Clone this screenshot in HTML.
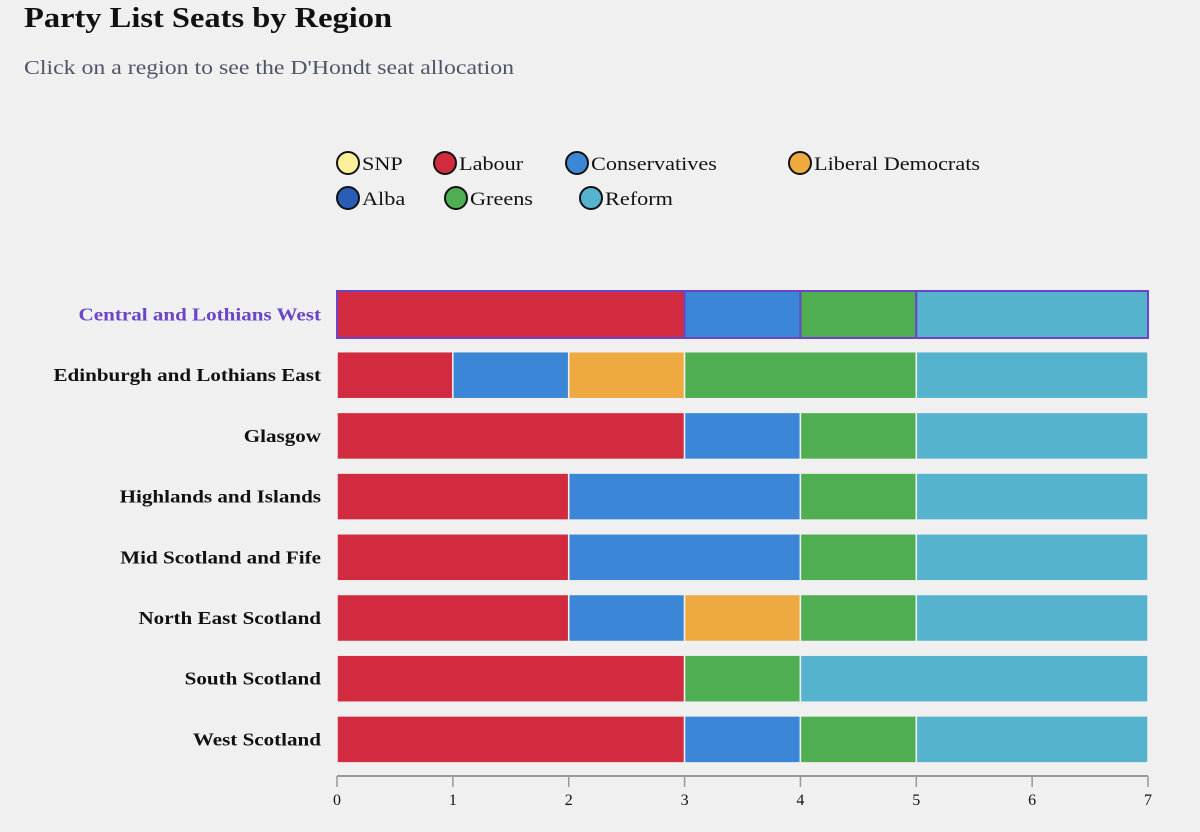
<!DOCTYPE html>
<html><head><meta charset="utf-8"><style>
body{margin:0;background:#f0f0f0;font-family:"Liberation Serif",serif;}
svg{display:block}
</style></head><body>
<svg id="c" width="1200" height="832">
<text class="st" x="24" y="27" font-size="29" font-weight="bold" fill="#111">Party List Seats by Region</text>
<text class="st" x="24" y="74" font-size="20" fill="#4e5566">Click on a region to see the D'Hondt seat allocation</text>
<g id="legend"></g><g id="bars"></g><g id="axis"></g>
</svg>
<script>
const regions=["Central and Lothians West","Edinburgh and Lothians East","Glasgow","Highlands and Islands","Mid Scotland and Fife","North East Scotland","South Scotland","West Scotland"];
const parties=["SNP","Labour","Conservatives","Liberal Democrats","Alba","Greens","Reform"];
const colors=["#fdf09a","#d22b3f","#3b86d6","#eea940","#2a5db8","#4fae52","#55b3ce"];
const snp=[0,0,0,0,0,0,0,0];
const labour=[3,1,3,2,2,2,3,3];
const con=[1,1,1,2,2,1,0,1];
const libdem=[0,1,0,0,0,1,0,0];
const alba=[0,0,0,0,0,0,0,0];
const greens=[1,2,1,1,1,1,1,1];
const reform=[2,2,2,2,2,2,3,2];
const ticks=[0,1,2,3,4,5,6,7];
const series=[snp,labour,con,libdem,alba,greens,reform];
const NS="http://www.w3.org/2000/svg";
const x0=337,x1=1148,xmax=7;
const xs=v=>x0+(x1-x0)*v/xmax;
const ys=i=>291+i*60.7;
const bh=47;
function mk(t,a,p){const e=document.createElementNS(NS,t);for(const k in a)e.setAttribute(k,a[k]);p.appendChild(e);return e;}
function stretch(t,f){const l=t.getComputedTextLength();t.setAttribute('textLength',l*f);t.setAttribute('lengthAdjust','spacingAndGlyphs');}
const lg=document.getElementById('legend');
const lpos=[[348,163],[445,163],[577,163],[800,163],[348,198],[456,198],[591,198]];
parties.forEach((p,i)=>{
 const g=mk('g',{},lg);
 
 
 mk('circle',{cx:lpos[i][0],cy:lpos[i][1],r:11,fill:colors[i],stroke:'#111','stroke-width':2},g);
 const t=mk('text',{x:lpos[i][0]+14,y:lpos[i][1]+7,'font-size':19,fill:'#111'},g);t.textContent=p;
 stretch(t,1.17);
});
const bg=document.getElementById('bars');
regions.forEach((r,i)=>{
 const g=mk('g',{},bg);
 
 
 const sel=i===0;
 const t=mk('text',{x:321,y:ys(i)+bh/2+6,'text-anchor':'end','font-size':18,'font-weight':'bold',fill:sel?'#6b44c8':'#111'},g);t.textContent=r;
 stretch(t,1.17);
 let acc=0;
 series.forEach((s,j)=>{
  const v=s[i];if(!v){return;}
  const rc=mk('rect',{x:xs(acc),y:ys(i),width:xs(acc+v)-xs(acc),height:bh,fill:colors[j],stroke:sel?'#6b44c8':'#f0f0f0','stroke-width':sel?2:1.5},g);
  
  
  acc+=v;
 });
});
document.querySelectorAll('.st').forEach(t=>stretch(t,t.getAttribute('font-size')=='29'?1.12:1.19));
const ax=document.getElementById('axis');


mk('line',{x1:x0,x2:x1,y1:776,y2:776,stroke:'#999','stroke-width':2},ax);
ticks.forEach(t=>{
 mk('line',{x1:xs(t),x2:xs(t),y1:776,y2:787,stroke:'#999','stroke-width':1.5},ax);
 const tx=mk('text',{x:xs(t),y:805,'text-anchor':'middle','font-size':16,fill:'#111'},ax);tx.textContent=t;
});
</script>
</body></html>
